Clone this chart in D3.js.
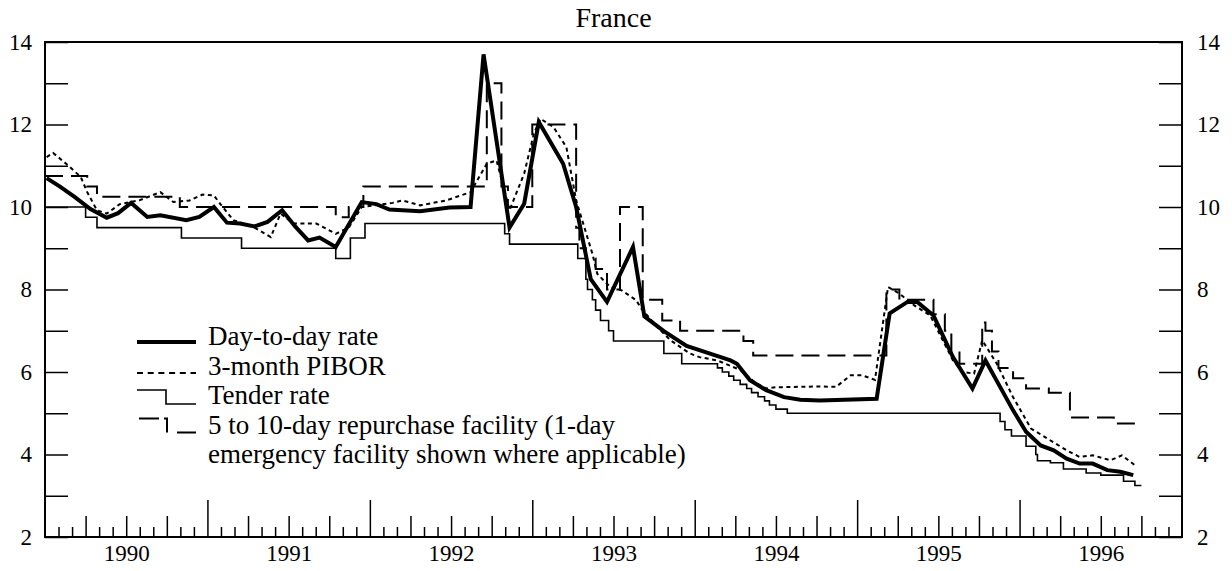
<!DOCTYPE html>
<html>
<head>
<meta charset="utf-8">
<script src="https://cdn.jsdelivr.net/npm/d3@7"></script>
<style>
  body { margin: 0; background: #fff; }
  svg { display: block; }
  text { font-family: "Liberation Serif", "Times New Roman", serif; fill: #000; }
</style>
</head>
<body>
<svg id="chart" width="1232" height="571"></svg>
<script>
// decimal years / percent
const dayDates = [1990.01,1990.09,1990.18,1990.28,1990.38,1990.45,1990.53,1990.63,1990.71,1990.87,1990.95,1991.04,1991.12,1991.20,1991.29,1991.37,1991.46,1991.54,1991.62,1991.69,1991.79,1991.95,1992.04,1992.12,1992.31,1992.49,1992.62,1992.70,1992.86,1992.95,1993.04,1993.19,1993.27,1993.36,1993.46,1993.62,1993.69,1993.81,1993.95,1994.16,1994.22,1994.26,1994.34,1994.44,1994.55,1994.65,1994.77,1995.12,1995.20,1995.31,1995.37,1995.47,1995.59,1995.71,1995.79,1995.88,1995.96,1996.04,1996.13,1996.21,1996.29,1996.37,1996.45,1996.54,1996.62,1996.70];
const dayValues = [10.7,10.5,10.25,9.95,9.74,9.85,10.1,9.76,9.8,9.68,9.76,10.0,9.62,9.6,9.53,9.64,9.92,9.53,9.19,9.26,9.03,10.12,10.07,9.94,9.9,9.99,10.0,13.7,9.5,10.08,12.06,11.05,10.0,8.25,7.7,9.03,7.35,6.99,6.63,6.36,6.28,6.2,5.8,5.56,5.39,5.33,5.31,5.35,7.42,7.7,7.7,7.37,6.36,5.6,6.28,5.64,5.07,4.55,4.22,4.1,3.9,3.78,3.78,3.62,3.58,3.5];

const piborDates = [1990.01,1990.05,1990.13,1990.22,1990.26,1990.32,1990.38,1990.46,1990.58,1990.71,1990.79,1990.89,1990.97,1991.04,1991.08,1991.16,1991.28,1991.39,1991.45,1991.53,1991.67,1991.79,1991.87,1991.95,1992.14,1992.20,1992.31,1992.47,1992.62,1992.72,1992.78,1992.86,1992.95,1993.01,1993.05,1993.13,1993.21,1993.27,1993.37,1993.40,1993.48,1993.55,1993.64,1993.67,1993.77,1993.85,1993.97,1994.03,1994.14,1994.28,1994.37,1994.44,1994.50,1994.77,1994.87,1994.96,1995.03,1995.11,1995.19,1995.26,1995.35,1995.45,1995.59,1995.65,1995.72,1995.77,1995.86,1995.96,1996.07,1996.17,1996.29,1996.37,1996.45,1996.56,1996.63,1996.71];
const piborValues = [11.21,11.31,11.05,10.73,10.36,9.92,9.84,10.07,10.16,10.36,10.12,10.16,10.3,10.28,10.07,9.68,9.52,9.27,9.84,9.6,9.6,9.35,9.5,10.0,10.1,10.16,10.04,10.16,10.36,11.05,11.13,9.92,10.81,11.78,12.14,11.94,11.45,10.16,8.87,8.38,8.06,7.98,7.74,7.54,7.09,6.77,6.45,6.36,6.28,6.05,5.75,5.6,5.63,5.65,5.64,5.92,5.92,5.81,8.06,7.9,7.62,7.37,6.28,6.0,5.96,6.77,6.2,5.39,4.63,4.39,4.1,3.94,3.98,3.86,3.98,3.74];

const tenderDates = [1990.00,1990.25,1990.32,1990.84,1991.21,1991.79,1991.88,1991.97,1992.83,1992.86,1993.28,1993.33,1993.34,1993.37,1993.39,1993.42,1993.47,1993.50,1993.81,1993.92,1994.14,1994.17,1994.21,1994.24,1994.28,1994.32,1994.35,1994.39,1994.43,1994.46,1994.50,1994.57,1995.88,1995.91,1995.95,1996.04,1996.10,1996.11,1996.19,1996.27,1996.41,1996.50,1996.64,1996.71,1996.75];
const tenderValues = [10.0,9.75,9.5,9.25,9.0,8.75,9.25,9.6,9.35,9.1,8.75,8.25,8.0,7.75,7.5,7.25,7.0,6.75,6.45,6.2,6.1,6.0,5.9,5.8,5.7,5.6,5.5,5.4,5.3,5.2,5.1,5.0,4.8,4.6,4.45,4.2,4.0,3.85,3.8,3.65,3.55,3.5,3.35,3.25,3.25];

const repoDates = [1990.00,1990.26,1990.32,1990.83,1991.79,1991.87,1991.96,1992.72,1992.81,1992.85,1993.00,1993.27,1993.29,1993.33,1993.39,1993.46,1993.54,1993.68,1993.80,1993.91,1994.30,1994.36,1995.18,1995.26,1995.47,1995.54,1995.58,1995.63,1995.77,1995.79,1995.83,1995.87,1995.96,1996.04,1996.18,1996.31,1996.58,1996.75];
const repoValues = [10.75,10.5,10.25,10.0,9.75,10.0,10.5,13.0,10.5,10.0,12.0,9.5,9.0,8.75,8.5,8.0,10.0,7.75,7.25,7.0,6.75,6.4,8.0,7.75,7.4,7.0,6.5,6.2,7.2,7.0,6.5,6.1,5.85,5.6,5.5,4.9,4.75,4.75];

const years = [1990, 1991, 1992, 1993, 1994, 1995, 1996];
const yLabels = [2, 4, 6, 8, 10, 12, 14];
const legendLabels = [
  ["Day-to-day rate"],
  ["3-month PIBOR"],
  ["Tender rate"],
  ["5 to 10-day repurchase facility (1-day", "emergency facility shown where applicable)"]
];

const svg = d3.select("#chart");
const plotLeft = 45, plotRight = 1182, plotTop = 42, plotBottom = 537;

const x = d3.scaleLinear().domain([1990, 1997]).range([plotLeft, plotRight]);
const y = d3.scaleLinear().domain([2, 14]).range([plotBottom, plotTop]);

const zip = (a, b) => a.map((d, i) => [d, b[i]]);

// title
svg.append("text")
  .attr("x", (plotLeft + plotRight) / 2)
  .attr("y", 27)
  .attr("text-anchor", "middle")
  .attr("font-size", "28px")
  .text("France");

// bottom ticks: months, quarters, years (all pointing up into the plot)
const months = d3.range(1, 84).filter(m => m % 3 !== 0).map(m => 1990 + m / 12);
const quarters = d3.range(3, 84, 3).filter(m => m % 12 !== 0).map(m => 1990 + m / 12);
const yearStarts = years.slice(1);

function tickRow(values, len) {
  const g = svg.append("g")
    .attr("transform", `translate(0,${plotBottom})`)
    .call(d3.axisBottom(x).tickValues(values).tickSizeInner(-len).tickSizeOuter(0).tickFormat(""));
  g.select(".domain").remove();
  g.selectAll(".tick line").attr("stroke", "#000").attr("stroke-width", 1.5);
}
tickRow(months, 10);
tickRow(quarters, 21);
tickRow(yearStarts, 37);

// year labels centred in each year
const yearAxis = svg.append("g")
  .attr("transform", `translate(0,${plotBottom})`)
  .call(d3.axisBottom(x).tickValues(years.map(v => v + 0.5)).tickSize(0).tickPadding(8)
    .tickFormat((d, i) => years[i]));
yearAxis.select(".domain").remove();
yearAxis.attr("font-size", null).attr("font-family", null);
yearAxis.selectAll("text").style("font-size", "23px");

// left and right value axes, ticks inward
const fmt = d => yLabels.includes(d) ? d : "";
const leftAxis = svg.append("g")
  .attr("transform", `translate(${plotLeft},0)`)
  .call(d3.axisLeft(y).tickValues(d3.range(2, 15)).tickSizeInner(-23).tickSizeOuter(0).tickPadding(13).tickFormat(fmt));
const rightAxis = svg.append("g")
  .attr("transform", `translate(${plotRight},0)`)
  .call(d3.axisRight(y).tickValues(d3.range(2, 15)).tickSizeInner(-23).tickSizeOuter(0).tickPadding(15).tickFormat(fmt));
[leftAxis, rightAxis].forEach(g => {
  g.select(".domain").remove();
  g.attr("font-size", null).attr("font-family", null);
  g.selectAll(".tick line").attr("stroke", "#000").attr("stroke-width", 1.5);
  g.selectAll("text").style("font-size", "23px");
});

// frame
svg.append("rect")
  .attr("x", plotLeft).attr("y", plotTop)
  .attr("width", plotRight - plotLeft).attr("height", plotBottom - plotTop)
  .attr("fill", "none").attr("stroke", "#000").attr("stroke-width", 2);

// series
const line = d3.line().x(d => x(d[0])).y(d => y(d[1]));
const step = d3.line().x(d => x(d[0])).y(d => y(d[1])).curve(d3.curveStepAfter);

svg.append("path")
  .datum(zip(tenderDates, tenderValues))
  .attr("d", step)
  .attr("fill", "none").attr("stroke", "#000").attr("stroke-width", 1.6);

svg.append("path")
  .datum(zip(repoDates, repoValues))
  .attr("d", step)
  .attr("fill", "none").attr("stroke", "#000").attr("stroke-width", 2)
  .attr("stroke-dasharray", "18,8");

svg.append("path")
  .datum(zip(piborDates, piborValues))
  .attr("d", line)
  .attr("fill", "none").attr("stroke", "#000").attr("stroke-width", 2)
  .attr("stroke-dasharray", "4,3.5");

svg.append("path")
  .datum(zip(dayDates, dayValues))
  .attr("d", line)
  .attr("fill", "none").attr("stroke", "#000").attr("stroke-width", 4)
  .attr("stroke-linejoin", "miter");

// legend
const lg = svg.append("g").attr("transform", "translate(137,0)");
const rowY = [345, 374.5, 404, 433.5, 463];

lg.append("line").attr("x1", 0).attr("x2", 59).attr("y1", rowY[0] - 3).attr("y2", rowY[0] - 3)
  .attr("stroke", "#000").attr("stroke-width", 4);
lg.append("line").attr("x1", 0).attr("x2", 59).attr("y1", rowY[1] - 1.5).attr("y2", rowY[1] - 1.5)
  .attr("stroke", "#000").attr("stroke-width", 2).attr("stroke-dasharray", "6,4.7");
lg.append("path").attr("d", `M0,${rowY[2] - 14}H29V${rowY[2]}H59`)
  .attr("fill", "none").attr("stroke", "#000").attr("stroke-width", 1.6);
lg.append("path").attr("d", `M2,${rowY[3] - 15}H22M27,${rowY[3] - 15}H30V${rowY[3] - 1}M40,${rowY[3] - 1}H59`)
  .attr("fill", "none").attr("stroke", "#000").attr("stroke-width", 2);

let row = 0;
legendLabels.forEach(lines => {
  lines.forEach(t => {
    lg.append("text").attr("x", 71).attr("y", rowY[row]).attr("font-size", "27px").text(t);
    row++;
  });
});
</script>
</body>
</html>
